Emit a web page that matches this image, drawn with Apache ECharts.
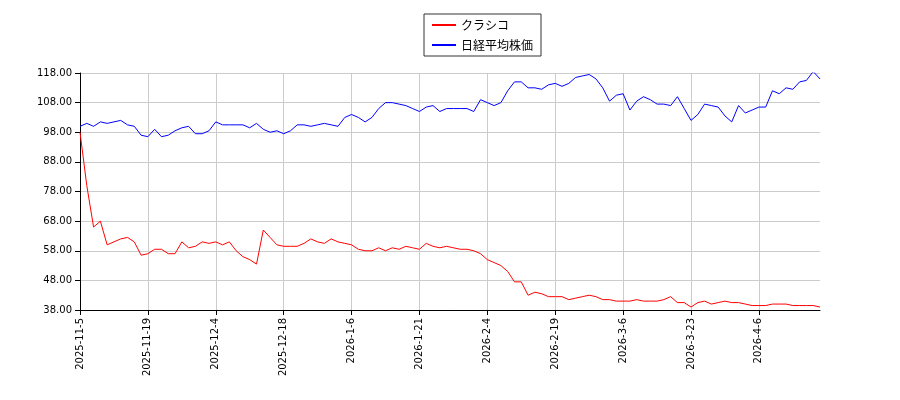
<!DOCTYPE html><html><head><meta charset="utf-8"><script src="https://cdn.jsdelivr.net/npm/echarts@6/dist/echarts.min.js"></script></head><body style="margin:0"><div id="c" style="width:900px;height:400px"></div><script>
const dates=["2025-11-5","2025-11-6","2025-11-7","2025-11-10","2025-11-11","2025-11-12","2025-11-13","2025-11-14","2025-11-17","2025-11-18",
"2025-11-19","2025-11-20","2025-11-21","2025-11-25","2025-11-26","2025-11-27","2025-11-28","2025-12-1","2025-12-2","2025-12-3",
"2025-12-4","2025-12-5","2025-12-8","2025-12-9","2025-12-10","2025-12-11","2025-12-12","2025-12-15","2025-12-16","2025-12-17",
"2025-12-18","2025-12-19","2025-12-22","2025-12-23","2025-12-24","2025-12-25","2025-12-26","2025-12-29","2025-12-30","2026-1-5",
"2026-1-6","2026-1-7","2026-1-8","2026-1-9","2026-1-13","2026-1-14","2026-1-15","2026-1-16","2026-1-19","2026-1-20",
"2026-1-21","2026-1-22","2026-1-23","2026-1-26","2026-1-27","2026-1-28","2026-1-29","2026-1-30","2026-2-2","2026-2-3",
"2026-2-4","2026-2-5","2026-2-6","2026-2-9","2026-2-10","2026-2-12","2026-2-13","2026-2-16","2026-2-17","2026-2-18",
"2026-2-19","2026-2-20","2026-2-24","2026-2-25","2026-2-26","2026-2-27","2026-3-2","2026-3-3","2026-3-4","2026-3-5",
"2026-3-6","2026-3-9","2026-3-10","2026-3-11","2026-3-12","2026-3-13","2026-3-16","2026-3-17","2026-3-18","2026-3-19",
"2026-3-23","2026-3-24","2026-3-25","2026-3-26","2026-3-27","2026-3-30","2026-3-31","2026-4-1","2026-4-2","2026-4-3",
"2026-4-6","2026-4-7","2026-4-8","2026-4-9","2026-4-10","2026-4-13","2026-4-14","2026-4-15","2026-4-16","2026-4-17"];
const kurashiko=[98,80,66,68,60,61,62,62.5,61,56.5,57,58.5,58.5,57,57,61,59,59.5,61,60.5,61,60,61,58,56,55,53.5,65,62.5,60,59.5,59.5,59.5,60.5,62,61,60.5,62,61,60.5,60,58.5,58,58,59,58,59,58.5,59.5,59,58.5,60.5,59.5,59,59.5,59,58.5,58.5,58,57,55,54,53,51,47.5,47.5,43,44,43.5,42.5,42.5,42.5,41.5,42,42.5,43,42.5,41.5,41.5,41,41,41,41.5,41,41,41,41.5,42.5,40.5,40.5,39,40.5,41,40,40.5,41,40.5,40.5,40,39.5,39.5,39.5,40,40,40,39.5,39.5,39.5,39.5,39];
const nikkei=[100,101,100,101.5,101,101.5,102,100.5,100,97,96.5,99,96.5,97,98.5,99.5,100,97.5,97.5,98.5,101.5,100.5,100.5,100.5,100.5,99.5,101,99,98,98.5,97.5,98.5,100.5,100.5,100,100.5,101,100.5,100,103,104,103,101.5,103,106,108,108,107.5,107,106,105,106.5,107,105,106,106,106,106,105,109,108,107,108,112,115,115,113,113,112.5,114,114.5,113.5,114.5,116.5,117,117.5,116,113,108.5,110.5,111,105.5,108.5,110,109,107.5,107.5,107,110,106,102,104,107.5,107,106.5,103.5,101.5,107,104.5,105.5,106.5,106.5,112,111,113,112.5,115,115.5,118.5,116];
const c=echarts.init(document.getElementById('c'));
c.setOption({animation:false,
legend:{top:14,left:424,orient:'vertical',itemWidth:24,itemHeight:2,borderColor:'#333',borderWidth:1,borderRadius:0,padding:[5,8],textStyle:{fontFamily:'Noto Sans CJK JP',fontSize:12,color:'#000'},
 data:[{name:'クラシコ',icon:'rect'},{name:'日経平均株価',icon:'rect'}]},
grid:{left:80,right:80,top:73,bottom:90},
xAxis:{type:'category',data:dates,boundaryGap:false,axisLine:{lineStyle:{color:'#000'}},axisTick:{interval:9,lineStyle:{color:'#000'}},
 axisLabel:{interval:9,rotate:90,fontFamily:'DejaVu Sans',fontSize:10,color:'#000'},splitLine:{show:true,interval:9,lineStyle:{color:'#ccc'}}},
yAxis:{type:'value',min:38,max:118,interval:10,axisLine:{show:true,lineStyle:{color:'#000'}},axisTick:{show:true,lineStyle:{color:'#000'}},
 axisLabel:{formatter:v=>v.toFixed(2),fontFamily:'DejaVu Sans',fontSize:10,color:'#000'},splitLine:{lineStyle:{color:'#ccc'}}},
series:[{name:'クラシコ',type:'line',data:kurashiko,symbol:'none',lineStyle:{color:'#ff0000',width:1},itemStyle:{color:'#ff0000'}},
{name:'日経平均株価',type:'line',data:nikkei,symbol:'none',lineStyle:{color:'#0000ff',width:1},itemStyle:{color:'#0000ff'}}]});
</script></body></html>
